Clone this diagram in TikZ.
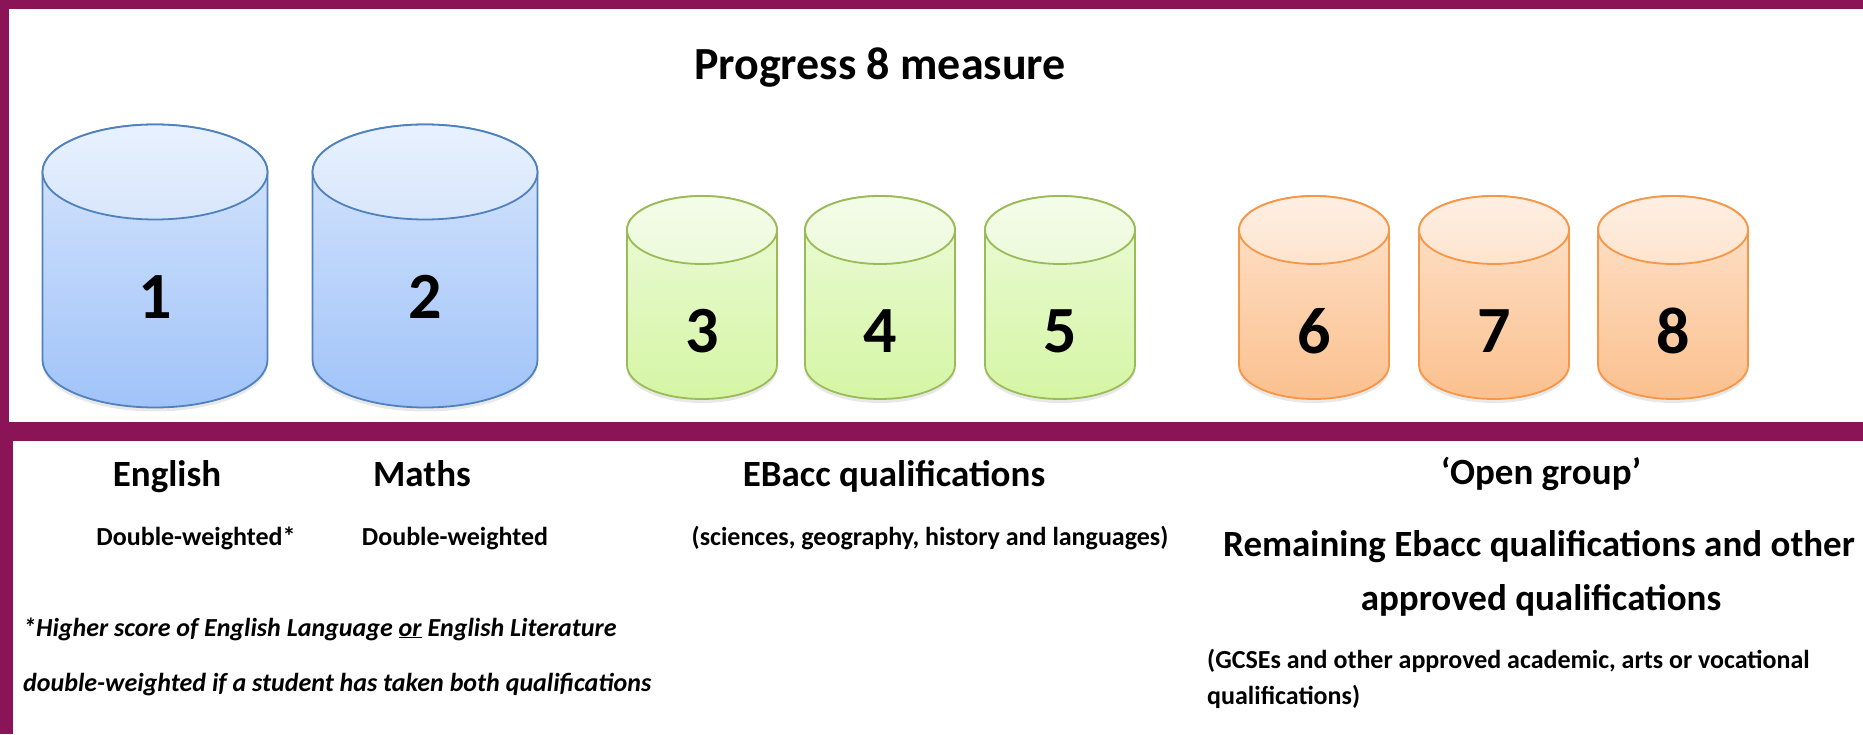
\documentclass[tikz,border=0pt]{standalone}
\usepackage{fontspec}
\setmainfont{Carlito}
\usepackage{tikz}
\usetikzlibrary{shadows}

\definecolor{frame}{RGB}{139,20,86}
\definecolor{blueline}{RGB}{79,129,189}
\definecolor{bluelid}{RGB}{232,241,254}
\definecolor{bluetop}{RGB}{216,230,252}
\definecolor{bluebot}{RGB}{160,195,249}
\definecolor{greenline}{RGB}{155,187,89}
\definecolor{greenlid}{RGB}{244,252,233}
\definecolor{greentop}{RGB}{236,250,218}
\definecolor{greenbot}{RGB}{213,246,164}
\definecolor{orangeline}{RGB}{247,150,70}
\definecolor{orangelid}{RGB}{254,239,227}
\definecolor{orangetop}{RGB}{254,228,206}
\definecolor{orangebot}{RGB}{251,192,142}

\begin{document}
\begin{tikzpicture}[x=1pt,y=1pt]
\useasboundingbox (0,0) rectangle (1863,734);
\fill[white] (0,0) rectangle (1863,734);
\fill[frame] (0,725) rectangle (1863,734);
\fill[frame] (0,293) rectangle (1863,312);
\fill[frame] (0,312) rectangle (9,734);
\fill[frame] (0,0) rectangle (13,293);
\tikzstyle{drum}=[line width=1.8pt,
                  drop shadow={opacity=.18, shadow xshift=0pt, shadow yshift=-4pt}]
\tikzstyle{lid}=[line width=1.8pt]
\tikzstyle{digit}=[inner sep=0pt, font=\fontsize{66}{66}\selectfont\bfseries]
\tikzstyle{head}=[inner sep=0pt, anchor=base, font=\fontsize{37}{40}\selectfont\bfseries]
\tikzstyle{sub}=[inner sep=0pt, anchor=base, font=\fontsize{26}{30}\selectfont\bfseries]
\tikzstyle{note}=[inner sep=0pt, anchor=base west, font=\fontsize{26}{30}\selectfont\bfseries]
\node[inner sep=0pt, anchor=base, font=\fontsize{46}{50}\selectfont\bfseries] (title) at (880,654) {Progress 8 measure};
\foreach \n/\x in {1/155,2/425}{
	\draw[drum, draw=blueline, top color=bluetop, bottom color=bluebot]
		(\x-112.5,562) -- (\x-112.5,374) arc (180:360:112.5 and 47.5)
		-- (\x+112.5,562) arc (0:180:112.5 and 47.5) -- cycle;
	\draw[lid, draw=blueline, top color=bluelid, bottom color=bluetop] (\x,562) ellipse (112.5 and 47.5);
	\node[digit] (d\n) at (\x,437){\n};
	}
\foreach \n/\x/\c in {3/702/green,4/880/green,5/1060/green,6/1314/orange,7/1494/orange,8/1673/orange}{
	\draw[drum, draw=\c line, top color=\c top, bottom color=\c bot]
		(\x-75,504) -- (\x-75,369) arc (180:360:75 and 34)
		-- (\x+75,504) arc (0:180:75 and 34) -- cycle;
	\draw[lid, draw=\c line, top color=\c lid, bottom color=\c top] (\x,504) ellipse (75 and 34);
	\node[digit] (d\n) at (\x,403){\n};
	}
\node[head] (english) at (167,247.5){English};
\node[head] (maths) at (422,247.5){Maths};
\node[head] (ebacc) at (894,247.5){EBacc qualifications};
\node[head] (open) at (1541,249){‘Open group’};
\node[sub] (englishw) at (196,188){Double-weighted*};
\node[sub] (mathsw) at (455,188){Double-weighted};
\node[sub] (ebaccw) at (930,188){(sciences, geography, history and languages)};
\node[head] (rest1) at (1539,177){Remaining Ebacc qualifications and other};
\node[head] (rest2) at (1541,124){approved qualifications};
\node[note, font=\fontsize{26}{30}\selectfont\bfseries\itshape] (foot1) at (23,98)
	{*Higher score of English Language \underline{or} English Literature};
\node[note, font=\fontsize{26}{30}\selectfont\bfseries\itshape] (foot2) at (23,43)
	{double-weighted if a student has taken both qualifications};
\node[note] (gcse1) at (1207,66){(GCSEs and other approved academic, arts or vocational};
\node[note] (gcse2) at (1207,30){qualifications)};
\end{tikzpicture}
\end{document}
